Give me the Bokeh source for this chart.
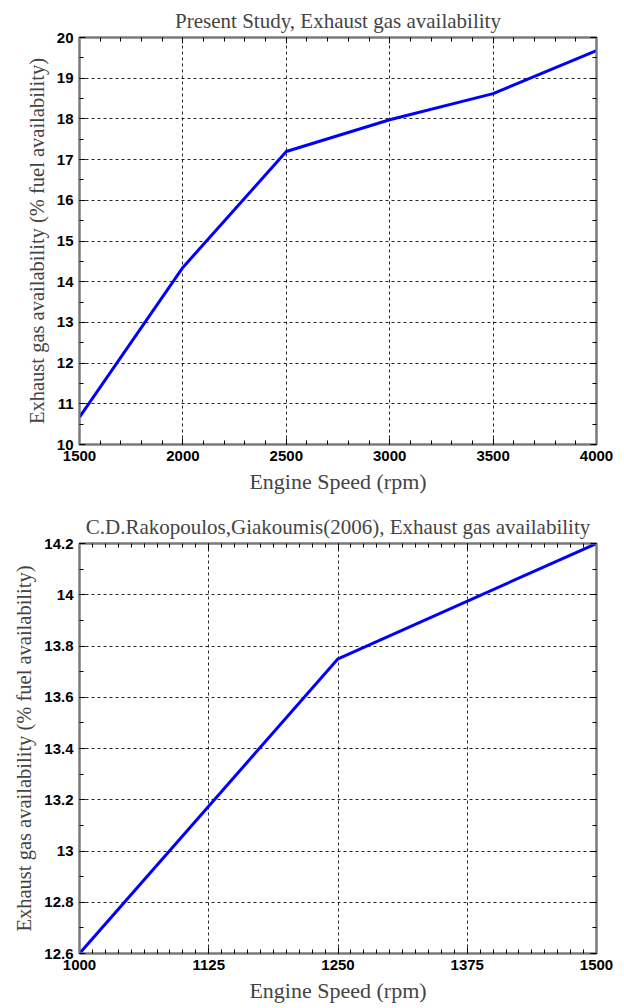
from bokeh.plotting import figure
from bokeh.layouts import column
from bokeh.models import (LinearAxis, SingleIntervalTicker, NumeralTickFormatter, Range1d,
                          CustomJSTickFormatter)
from bokeh.embed import file_html
from bokeh.resources import INLINE

# ---- data ----
speed_present = [1500, 2000, 2500, 3000, 3500, 4000]
avail_present = [10.67, 14.35, 17.2, 17.98, 18.62, 19.68]

speed_ref = [1000, 1250, 1500]
avail_ref = [12.6, 13.75, 14.2]

title_top = "Present Study, Exhaust gas availability"
title_bot = "C.D.Rakopoulos,Giakoumis(2006), Exhaust gas availability"
xlabel = "Engine Speed (rpm)"
ylabel = "Exhaust gas availability (% fuel availability)"

SERIF = "Liberation Serif"
SANS = "Liberation Sans"
FRAME = "#7a7a7a"


def style_axis(ax, ticker, show_labels):
    ax.ticker = ticker
    ax.axis_line_color = FRAME
    ax.axis_line_width = 2
    ax.major_tick_in = 6
    ax.major_tick_out = 0
    ax.minor_tick_in = 4
    ax.minor_tick_out = 0
    ax.major_tick_line_color = "black"
    ax.minor_tick_line_color = "black"
    ax.major_tick_line_width = 1
    ax.minor_tick_line_width = 1
    if show_labels:
        ax.major_label_text_font = SANS
        ax.major_label_text_font_style = "bold"
        ax.major_label_text_font_size = "15px"
        ax.major_label_text_color = "black"
        ax.major_label_standoff = 6
    else:
        ax.formatter = CustomJSTickFormatter(code="return ''")
        ax.major_label_text_color = None
        ax.major_label_standoff = 0
        ax.axis_label = None


def make_plot(xs, ys, xr, yr, xint, xminor, yint, yminor, title, height,
              top, bottom, yfmt=None):
    p = figure(width=624, height=height, output_backend="svg", toolbar_location=None,
               x_range=Range1d(*xr), y_range=Range1d(*yr),
               x_axis_location=None, y_axis_location=None,
               min_border_left=79, min_border_right=28,
               min_border_top=top, min_border_bottom=bottom)
    p.background_fill_color = "white"
    p.border_fill_color = "white"
    p.outline_line_color = FRAME
    p.outline_line_width = 2

    p.title.text = title
    p.title.text_font = SERIF
    p.title.text_font_size = "21px"
    p.title.text_font_style = "normal"
    p.title.align = "center"
    p.title.offset = 0
    p.title.standoff = 10

    bx = LinearAxis(axis_label=xlabel)
    style_axis(bx, SingleIntervalTicker(interval=xint, num_minor_ticks=xminor), True)
    bx.axis_label_text_font = SERIF
    bx.axis_label_text_font_size = "22px"
    bx.axis_label_text_font_style = "normal"
    bx.axis_label_standoff = 5
    p.add_layout(bx, "below")

    ly = LinearAxis(axis_label=ylabel)
    style_axis(ly, SingleIntervalTicker(interval=yint, num_minor_ticks=yminor), True)
    if yfmt:
        ly.formatter = NumeralTickFormatter(format=yfmt)
    ly.axis_label_text_font = SERIF
    ly.axis_label_text_font_size = "20.5px"
    ly.axis_label_text_font_style = "normal"
    ly.axis_label_standoff = 6
    p.add_layout(ly, "left")

    tx = LinearAxis()
    style_axis(tx, SingleIntervalTicker(interval=xint, num_minor_ticks=xminor), False)
    p.add_layout(tx, "above")

    ry = LinearAxis()
    style_axis(ry, SingleIntervalTicker(interval=yint, num_minor_ticks=yminor), False)
    p.add_layout(ry, "right")

    p.xgrid.ticker = SingleIntervalTicker(interval=xint)
    p.ygrid.ticker = SingleIntervalTicker(interval=yint)
    for g in (p.xgrid, p.ygrid):
        g.grid_line_color = "black"
        g.grid_line_dash = "3 3"
        g.grid_line_width = 1
        g.grid_line_alpha = 0.85

    p.line(xs, ys, line_color="#0000ff", line_width=3)
    return p


p1 = make_plot(speed_present, avail_present, (1500, 4000), (10, 20), 500, 5, 1, 2,
               title_top, 500, 37, 56)
p2 = make_plot(speed_ref, avail_ref, (1000, 1500), (12.6, 14.2 + 1e-9), 125, 10, 0.2, 2,
               title_bot, 508, 43, 55, yfmt="0.[0]")

layout = column(p1, p2, spacing=0)
open("out.html", "w").write(file_html(layout, INLINE))
